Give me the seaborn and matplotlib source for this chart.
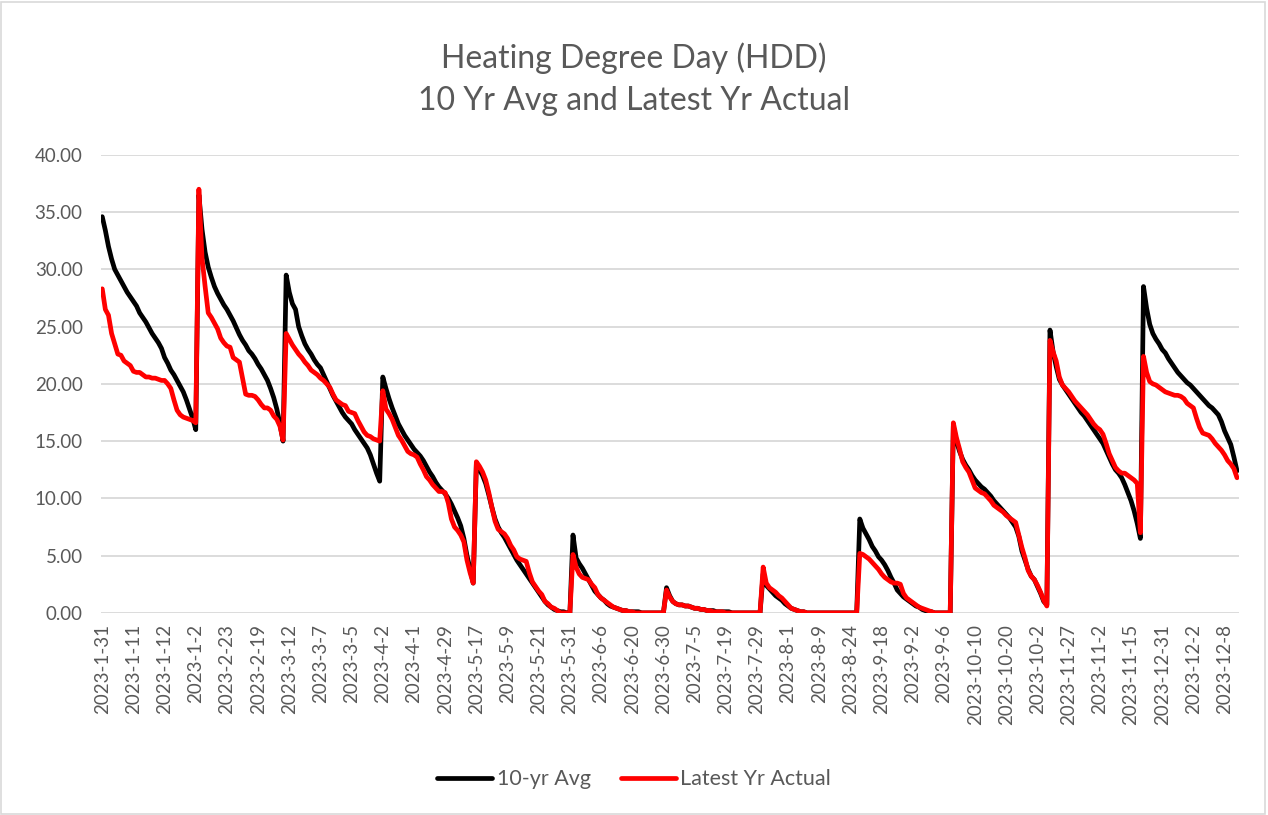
import pandas as pd
import matplotlib.pyplot as plt
import seaborn as sns
from matplotlib.patches import Rectangle

# Values, one list per month (Jan..Dec)
avg_10yr_by_month = [
    [34.6, 33.4, 32.0, 30.9, 30.0, 29.5, 29.0, 28.5, 28.0, 27.6, 27.2, 26.8, 26.2, 25.8, 25.4, 24.9,
     24.4, 24.0, 23.6, 23.1, 22.3, 21.8, 21.2, 20.8, 20.3, 19.8, 19.3, 18.6, 17.8, 17.0, 16.0],
    [36.5, 33.5, 31.5, 30.2, 29.3, 28.5, 27.9, 27.4, 26.9, 26.5, 26.0, 25.5, 24.9, 24.3, 23.8, 23.4,
     22.9, 22.6, 22.2, 21.7, 21.3, 20.8, 20.3, 19.6, 18.8, 17.8, 16.5, 15.0],
    [29.5, 28.0, 27.0, 26.5, 25.0, 24.2, 23.5, 23.0, 22.6, 22.1, 21.7, 21.4, 20.8, 20.2, 19.6, 19.0,
     18.5, 18.0, 17.5, 17.1, 16.8, 16.5, 16.0, 15.6, 15.2, 14.8, 14.4, 13.8, 13.0, 12.2, 11.5],
    [20.6, 19.6, 18.7, 17.9, 17.2, 16.5, 16.0, 15.5, 15.1, 14.7, 14.3, 14.0, 13.7, 13.3, 12.8, 12.3,
     11.9, 11.4, 11.0, 10.7, 10.4, 10.0, 9.5, 8.9, 8.3, 7.6, 6.5, 5.0, 3.8, 2.6],
    [13.0, 12.5, 12.0, 11.3, 10.3, 9.2, 8.2, 7.5, 7.0, 6.6, 6.1, 5.6, 5.1, 4.6, 4.2, 3.8,
     3.4, 3.0, 2.6, 2.2, 1.8, 1.4, 1.0, 0.7, 0.5, 0.3, 0.2, 0.1, 0.1, 0.0, 0.0],
    [6.8, 4.8, 4.3, 3.9, 3.4, 2.9, 2.4, 1.9, 1.6, 1.3, 1.1, 0.8, 0.6, 0.5, 0.4, 0.3,
     0.2, 0.2, 0.1, 0.1, 0.1, 0.1, 0.0, 0.0, 0.0, 0.0, 0.0, 0.0, 0.0, 0.0],
    [2.2, 1.5, 1.0, 0.8, 0.7, 0.7, 0.6, 0.6, 0.5, 0.4, 0.4, 0.3, 0.3, 0.2, 0.2, 0.2,
     0.1, 0.1, 0.1, 0.1, 0.1, 0.0, 0.0, 0.0, 0.0, 0.0, 0.0, 0.0, 0.0, 0.0, 0.0],
    [3.4, 2.4, 2.1, 1.8, 1.5, 1.3, 1.1, 0.8, 0.6, 0.4, 0.3, 0.2, 0.1, 0.1, 0.0, 0.0,
     0.0, 0.0, 0.0, 0.0, 0.0, 0.0, 0.0, 0.0, 0.0, 0.0, 0.0, 0.0, 0.0, 0.0, 0.0],
    [8.2, 7.4, 6.9, 6.4, 5.8, 5.4, 4.9, 4.6, 4.2, 3.7, 3.1, 2.6, 2.0, 1.7, 1.4, 1.2,
     1.0, 0.8, 0.6, 0.5, 0.3, 0.2, 0.1, 0.1, 0.0, 0.0, 0.0, 0.0, 0.0, 0.0],
    [16.3, 15.0, 14.1, 13.4, 12.9, 12.5, 12.0, 11.6, 11.3, 11.0, 10.8, 10.5, 10.2, 9.8, 9.5, 9.2,
     8.9, 8.6, 8.3, 7.9, 7.5, 6.7, 5.4, 4.6, 3.8, 3.2, 2.9, 2.3, 1.7, 1.0, 0.7],
    [24.7, 22.8, 21.5, 20.4, 19.9, 19.5, 19.1, 18.7, 18.3, 17.9, 17.5, 17.2, 16.8, 16.4, 16.0, 15.6,
     15.2, 14.8, 14.2, 13.6, 13.0, 12.5, 12.2, 11.8, 11.2, 10.5, 9.8, 8.9, 7.8, 6.5],
    [28.5, 26.6, 25.2, 24.4, 23.9, 23.5, 23.0, 22.7, 22.2, 21.8, 21.4, 21.0, 20.7, 20.4, 20.1, 19.9,
     19.6, 19.3, 19.0, 18.7, 18.4, 18.1, 17.9, 17.6, 17.3, 16.7, 15.9, 15.3, 14.7, 13.6, 12.4],
]

latest_actual_by_month = [
    [28.3, 26.5, 26.0, 24.4, 23.5, 22.6, 22.5, 22.0, 21.8, 21.6, 21.1, 21.0, 21.0, 20.8, 20.6, 20.6,
     20.5, 20.5, 20.4, 20.3, 20.3, 20.0, 19.6, 18.6, 17.7, 17.3, 17.1, 17.0, 16.9, 16.8, 16.6],
    [37.0, 31.0, 28.5, 26.2, 25.8, 25.3, 24.8, 24.0, 23.6, 23.3, 23.2, 22.3, 22.1, 21.9, 20.5, 19.1,
     19.0, 19.0, 18.9, 18.6, 18.2, 17.9, 17.9, 17.7, 17.2, 16.9, 16.3, 15.1],
    [24.4, 23.9, 23.4, 23.0, 22.6, 22.3, 21.9, 21.6, 21.2, 21.0, 20.8, 20.5, 20.3, 20.0, 19.7, 19.1,
     18.6, 18.4, 18.2, 18.1, 17.6, 17.5, 17.4, 16.8, 16.3, 15.8, 15.5, 15.4, 15.2, 15.1, 15.0],
    [19.4, 17.8, 17.4, 16.9, 16.2, 15.5, 15.1, 14.6, 14.1, 13.9, 13.8, 13.6, 13.0, 12.5, 11.9, 11.6,
     11.2, 10.9, 10.6, 10.6, 10.5, 9.6, 8.2, 7.5, 7.2, 6.8, 6.2, 4.6, 3.5, 2.6],
    [13.2, 12.8, 12.3, 11.6, 10.5, 9.2, 8.0, 7.3, 7.1, 6.9, 6.5, 5.9, 5.5, 4.9, 4.7, 4.6,
     4.5, 3.5, 2.7, 2.3, 1.9, 1.6, 1.0, 0.8, 0.5, 0.4, 0.2, 0.0, 0.0, 0.0, 0.0],
    [5.1, 4.0, 3.4, 3.1, 3.0, 2.9, 2.5, 2.2, 1.6, 1.3, 1.1, 0.9, 0.7, 0.5, 0.4, 0.3,
     0.2, 0.2, 0.1, 0.1, 0.0, 0.0, 0.0, 0.0, 0.0, 0.0, 0.0, 0.0, 0.0, 0.0],
    [2.0, 1.4, 1.0, 0.8, 0.7, 0.7, 0.6, 0.6, 0.5, 0.4, 0.4, 0.3, 0.3, 0.2, 0.2, 0.1,
     0.1, 0.1, 0.1, 0.0, 0.0, 0.0, 0.0, 0.0, 0.0, 0.0, 0.0, 0.0, 0.0, 0.0, 0.0],
    [4.0, 2.6, 2.2, 2.0, 1.8, 1.5, 1.3, 1.0, 0.7, 0.4, 0.3, 0.2, 0.1, 0.1, 0.0, 0.0,
     0.0, 0.0, 0.0, 0.0, 0.0, 0.0, 0.0, 0.0, 0.0, 0.0, 0.0, 0.0, 0.0, 0.0, 0.0],
    [5.2, 5.1, 4.9, 4.7, 4.4, 4.1, 3.8, 3.4, 3.1, 2.9, 2.7, 2.6, 2.6, 2.5, 1.7, 1.3,
     1.1, 0.9, 0.7, 0.5, 0.4, 0.3, 0.2, 0.1, 0.0, 0.0, 0.0, 0.0, 0.0, 0.0],
    [16.6, 15.3, 14.3, 13.2, 12.7, 12.3, 11.6, 10.9, 10.7, 10.5, 10.4, 10.1, 9.8, 9.4, 9.2, 9.0,
     8.8, 8.5, 8.3, 8.1, 7.9, 6.8, 5.7, 4.8, 3.7, 3.2, 2.9, 2.4, 1.8, 1.1, 0.6],
    [23.8, 22.8, 22.0, 20.6, 19.9, 19.6, 19.3, 18.9, 18.5, 18.2, 17.9, 17.6, 17.3, 16.9, 16.5, 16.2,
     16.0, 15.6, 14.8, 13.9, 13.3, 12.7, 12.4, 12.2, 12.2, 12.0, 11.8, 11.6, 11.3, 7.0],
    [22.4, 21.0, 20.2, 20.0, 19.9, 19.7, 19.5, 19.3, 19.2, 19.1, 19.0, 19.0, 18.9, 18.7, 18.3, 18.1,
     17.9, 17.0, 16.2, 15.7, 15.6, 15.5, 15.2, 14.8, 14.5, 14.2, 13.8, 13.3, 13.0, 12.6, 11.8],
]

# every 10th category label shown on the axis
tick_labels = ['2023-1-31', '2023-1-11', '2023-1-12', '2023-1-2', '2023-2-23', '2023-2-19',
               '2023-3-12', '2023-3-7', '2023-3-5', '2023-4-2', '2023-4-1', '2023-4-29',
               '2023-5-17', '2023-5-9', '2023-5-21', '2023-5-31', '2023-6-6', '2023-6-20',
               '2023-6-30', '2023-7-5', '2023-7-19', '2023-7-29', '2023-8-1', '2023-8-9',
               '2023-8-24', '2023-9-18', '2023-9-2', '2023-9-6', '2023-10-10', '2023-10-20',
               '2023-10-2', '2023-11-27', '2023-11-2', '2023-11-15', '2023-12-31', '2023-12-2',
               '2023-12-8']

avg_10yr = [v for month in avg_10yr_by_month for v in month]
latest_actual = [v for month in latest_actual_by_month for v in month]

df = pd.concat([
    pd.DataFrame({'idx': range(len(avg_10yr)), 'HDD': avg_10yr, 'series': '10-yr Avg'}),
    pd.DataFrame({'idx': range(len(latest_actual)), 'HDD': latest_actual, 'series': 'Latest Yr Actual'}),
])

sns.set_style('white')
plt.rcParams['font.family'] = ['Lato', 'DejaVu Sans']
grey = '#595959'

fig = plt.figure(figsize=(12.68, 8.15), dpi=100)
ax = fig.add_axes([0.0794, 0.248, 0.8974, 0.562])

sns.lineplot(data=df, x='idx', y='HDD', hue='series', estimator=None,
             palette={'10-yr Avg': 'black', 'Latest Yr Actual': '#ff0000'},
             linewidth=3.4, ax=ax, legend=True)

ax.set_xlim(-0.5, len(avg_10yr) - 0.5)
ax.set_ylim(0, 40)
ax.set_yticks(range(0, 41, 5))
ax.set_yticklabels([f'{v:.2f}' for v in range(0, 41, 5)], color=grey, fontsize=13.5)
ax.set_xticks(range(0, len(avg_10yr), 10))
ax.set_xticklabels(tick_labels, rotation=90, color=grey, fontsize=13.5)
ax.tick_params(axis='both', length=0, pad=8)
ax.tick_params(axis='y', pad=13)
ax.grid(axis='y', color='#d9d9d9', linewidth=1.3)
ax.set_axisbelow(True)
for s in ax.spines.values():
    s.set_visible(False)
ax.set_xlabel('')
ax.set_ylabel('')

fig.text(0.5, 0.929, 'Heating Degree Day (HDD)', ha='center', va='center', fontsize=23, color=grey)
fig.text(0.5, 0.876, '10 Yr Avg and Latest Yr Actual', ha='center', va='center', fontsize=23, color=grey)

handles, labels = ax.get_legend_handles_labels()
ax.get_legend().remove()
fig.legend(handles, labels, loc='center', bbox_to_anchor=(0.5, 0.044), ncol=2, frameon=False,
           fontsize=15.5, labelcolor=grey, handlelength=2.55, handletextpad=0.2, columnspacing=1.4)

fig.patches.append(Rectangle((0.001, 0.001), 0.997, 0.997, transform=fig.transFigure,
                             fill=False, edgecolor='#d9d9d9', linewidth=1.2))

plt.savefig('out.png', dpi=100)
